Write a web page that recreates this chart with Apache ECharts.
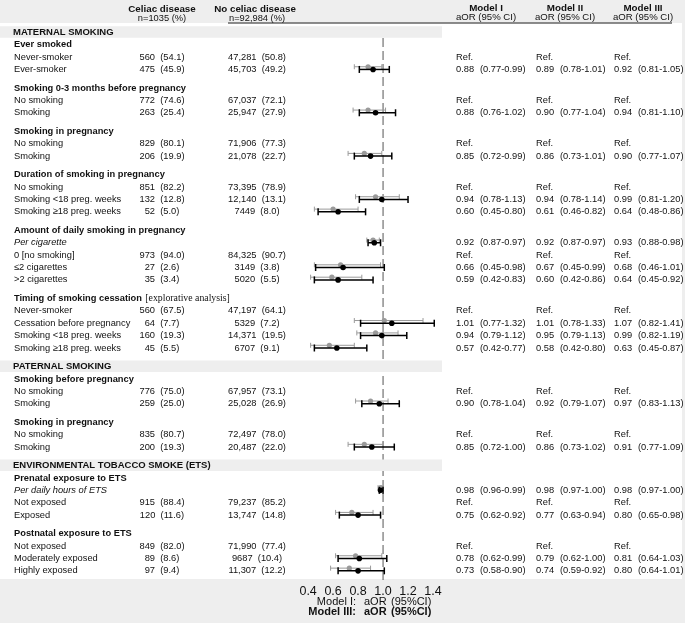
<!DOCTYPE html>
<html><head><meta charset="utf-8">
<script src="https://cdn.jsdelivr.net/npm/echarts@6/dist/echarts.min.js"></script>
<style>html,body{margin:0;padding:0;background:#fff}#c{width:685px;height:623px}</style>
</head><body><div id="c"></div>
<script>
// ---------------- DATA ----------------
// row types: s = section, g = group title, e = italic continuous row, i = item
const rowTypes = ['s','g','i','i','g','i','i','g','i','i','g','i','i','i','g','e','i','i','i','g','i','i','i','i','s','g','i','i','g','i','i','s','g','e','i','i','g','i','i','i'];
const rowLabels = [
 'MATERNAL SMOKING','Ever smoked','Never-smoker','Ever-smoker',
 'Smoking 0-3 months before pregnancy','No smoking','Smoking',
 'Smoking in pregnancy','No smoking','Smoking',
 'Duration of smoking in pregnancy','No smoking','Smoking <18 preg. weeks','Smoking \u226518 preg. weeks',
 'Amount of daily smoking in pregnancy','Per cigarette','0 [no smoking]','\u22642 cigarettes','>2 cigarettes',
 'Timing of smoking cessation','Never-smoker','Cessation before pregnancy','Smoking <18 preg. weeks','Smoking \u226518 preg. weeks',
 'PATERNAL SMOKING','Smoking before pregnancy','No smoking','Smoking',
 'Smoking in pregnancy','No smoking','Smoking',
 'ENVIRONMENTAL TOBACCO SMOKE (ETS)','Prenatal exposure to ETS','Per daily hours of ETS','Not exposed','Exposed',
 'Postnatal exposure to ETS','Not exposed','Moderately exposed','Highly exposed'
];
const rowNotes = {19: '[explorative analysis]'};
const headers = {celiac: ['Celiac disease','n=1035 (%)'], noCeliac: ['No celiac disease','n=92,984 (%)'],
  models: ['Model I','Model II','Model III'], modelSub: 'aOR (95% CI)'};
const celiacN   = [null,null,560,475,null,772,263,null,829,206,null,851,132,52,null,null,973,27,35,null,560,64,160,45,null,null,776,259,null,835,200,null,null,null,915,120,null,849,89,97];
const celiacPct = [null,null,54.1,45.9,null,74.6,25.4,null,80.1,19.9,null,82.2,12.8,5.0,null,null,94.0,2.6,3.4,null,67.5,7.7,19.3,5.5,null,null,75.0,25.0,null,80.7,19.3,null,null,null,88.4,11.6,null,82.0,8.6,9.4];
const noCeliacN   = [null,null,47281,45703,null,67037,25947,null,71906,21078,null,73395,12140,7449,null,null,84325,3149,5020,null,47197,5329,14371,6707,null,null,67957,25028,null,72497,20487,null,null,null,79237,13747,null,71990,9687,11307];
const noCeliacPct = [null,null,50.8,49.2,null,72.1,27.9,null,77.3,22.7,null,78.9,13.1,8.0,null,null,90.7,3.8,5.5,null,64.1,7.2,19.5,9.1,null,null,73.1,26.9,null,78.0,22.0,null,null,null,85.2,14.8,null,77.4,10.4,12.2];
const R = 'Ref.';
const modelI = [null,null,R,[0.88,0.77,0.99],null,R,[0.88,0.76,1.02],null,R,[0.85,0.72,0.99],null,R,[0.94,0.78,1.13],[0.60,0.45,0.80],null,[0.92,0.87,0.97],R,[0.66,0.45,0.98],[0.59,0.42,0.83],null,R,[1.01,0.77,1.32],[0.94,0.79,1.12],[0.57,0.42,0.77],null,null,R,[0.90,0.78,1.04],null,R,[0.85,0.72,1.00],null,null,[0.98,0.96,0.99],R,[0.75,0.62,0.92],null,R,[0.78,0.62,0.99],[0.73,0.58,0.90]];
const modelII = [null,null,R,[0.89,0.78,1.01],null,R,[0.90,0.77,1.04],null,R,[0.86,0.73,1.01],null,R,[0.94,0.78,1.14],[0.61,0.46,0.82],null,[0.92,0.87,0.97],R,[0.67,0.45,0.99],[0.60,0.42,0.86],null,R,[1.01,0.78,1.33],[0.95,0.79,1.13],[0.58,0.42,0.80],null,null,R,[0.92,0.79,1.07],null,R,[0.86,0.73,1.02],null,null,[0.98,0.97,1.00],R,[0.77,0.63,0.94],null,R,[0.79,0.62,1.00],[0.74,0.59,0.92]];
const modelIII = [null,null,R,[0.92,0.81,1.05],null,R,[0.94,0.81,1.10],null,R,[0.90,0.77,1.07],null,R,[0.99,0.81,1.20],[0.64,0.48,0.86],null,[0.93,0.88,0.98],R,[0.68,0.46,1.01],[0.64,0.45,0.92],null,R,[1.07,0.82,1.41],[0.99,0.82,1.19],[0.63,0.45,0.87],null,null,R,[0.97,0.83,1.13],null,R,[0.91,0.77,1.09],null,null,[0.98,0.97,1.00],R,[0.80,0.65,0.98],null,R,[0.81,0.64,1.03],[0.80,0.64,1.01]];
const xTicks = [0.4,0.6,0.8,1.0,1.2,1.4];
const refValue = 1.0;
const footer = [['Model I:','aOR','(95%CI)'],['Model III:','aOR','(95%CI)']];

// ---------------- LAYOUT ----------------
const Y0 = 32.3, UNIT = 12.38, AXIS_Y = 580;
const pos = [];
rowTypes.forEach((t, i) => {
  if (i === 0) { pos.push(0); return; }
  const prev = rowTypes[i-1];
  const step = ((t === 's' || t === 'g') && (prev === 'i')) ? 1.5 : 1;
  pos.push(pos[i-1] + step);
});
const FF = '"Liberation Sans", Arial, Helvetica, sans-serif';
const fN = '9.3px ' + FF, fB = 'bold 9.3px ' + FF, fI = 'italic 9.3px ' + FF;

function fmtN(n){ return n >= 10000 ? n.toLocaleString('en-US') : String(n); }

function forestSeries(model, color, lw, cap, r, dy, z){
  const data = [];
  model.forEach((m, i) => { if (Array.isArray(m)) data.push([m[0], pos[i], m[1], m[2]]); });
  return {
    type: 'custom', coordinateSystem: 'cartesian2d', z: z, silent: true, clip: false,
    encode: {x: 0, y: 1},
    data: data,
    renderItem: function(params, api){
      const c = api.coord([api.value(0), api.value(1)]);
      const a = api.coord([api.value(2), api.value(1)]);
      const b = api.coord([api.value(3), api.value(1)]);
      const y = c[1] + dy;
      const st = {stroke: color, lineWidth: lw};
      return {type: 'group', children: [
        {type: 'line', shape: {x1: a[0], y1: y, x2: b[0], y2: y}, style: st},
        {type: 'line', shape: {x1: a[0], y1: y-cap, x2: a[0], y2: y+cap}, style: st},
        {type: 'line', shape: {x1: b[0], y1: y-cap, x2: b[0], y2: y+cap}, style: st},
        {type: 'circle', shape: {cx: c[0], cy: y, r: r}, style: {fill: color}}
      ]};
    }
  };
}

const chart = echarts.init(document.getElementById('c'));
const yMin = -Y0/UNIT, yMax = (AXIS_Y - Y0)/UNIT;
chart.setOption({
  animation: false,
  backgroundColor: '#fff',
  grid: {left: 300, top: 0, width: 141, height: AXIS_Y, containLabel: false, outerBoundsMode: 'none'},
  xAxis: {type: 'value', min: 0.335, max: 1.464, z: 6,
    axisLine: {show: true, lineStyle: {color: '#000', width: 1}},
    axisTick: {show: true, inside: true, length: 4, lineStyle: {color: '#000'}, customValues: xTicks},
    axisLabel: {show: true, customValues: xTicks, formatter: v => v.toFixed(1), fontSize: 12.5, color: '#111', margin: 5, fontFamily: FF},
    splitLine: {show: false}},
  yAxis: {type: 'value', inverse: true, min: yMin, max: yMax, show: false},
  series: [
    {type: 'line', silent: true, z: 2, symbol: 'none', data: [[refValue, (38 - Y0)/UNIT], [refValue, yMax]],
     lineStyle: {color: '#555', width: 1, type: [9, 4]}},
    forestSeries(modelI, '#9a9a9a', 1, 2.5, 2.6, -2.7, 4),
    forestSeries(modelIII, '#000', 1.5, 3.5, 2.8, 0, 5)
  ]
});

const yPix = v => chart.convertToPixel({yAxisIndex: 0}, v);
const g = [];
function rect(x, y, w, h, fill, z){ g.push({type: 'rect', shape: {x, y, width: w, height: h}, style: {fill}, z, silent: true}); }
function text(s, x, y, font, align, z, fill){
  g.push({type: 'text', x, y, z: z || 10, silent: true,
    style: {text: s, font, fill: fill || '#111', align: align || 'left', verticalAlign: 'middle', textAlign: align || 'left', textVerticalAlign: 'middle'}});
}
// backgrounds
rect(0, 0, 685, 23, '#eeeeee', 1);
rect(0, 579, 685, 44, '#eeeeee', 1);
rect(682, 0, 3, 623, '#eeeeee', 1);
g.push({type: 'line', shape: {x1: 228, y1: 23, x2: 672, y2: 23}, style: {stroke: '#666', lineWidth: 1.5}, z: 3, silent: true});

// header
text(headers.celiac[0], 162, 9, 'bold 9.8px ' + FF, 'center');
text(headers.celiac[1], 162, 18.3, fN, 'center');
text(headers.noCeliac[0], 255, 9, 'bold 9.8px ' + FF, 'center');
text(headers.noCeliac[1], 257, 18.3, fN, 'center');
const modelX = [456, 536, 614];
const modelCenter = [486, 565, 643];
headers.models.forEach((m, k) => {
  text(m, modelCenter[k], 8.5, 'bold 9.8px ' + FF, 'center');
  text(headers.modelSub, modelCenter[k], 17.5, '9.6px ' + FF, 'center');
});

// rows
const models = [modelI, modelII, modelIII];
rowTypes.forEach((t, i) => {
  const y = yPix(pos[i]);
  if (t === 's') {
    rect(0, y - 6, 442, 11.5, '#eeeeee', 7);
    text(rowLabels[i], 13, y, 'bold 9.5px ' + FF, 'left', 10);
    return;
  }
  if (t === 'g') {
    if (rowNotes[i]) {
      g.push({type: 'text', x: 14, y, z: 10, silent: true, style: {
        text: '{b|' + rowLabels[i] + '} {s|' + rowNotes[i] + '}', fill: '#111',
        align: 'left', verticalAlign: 'middle', textAlign: 'left', textVerticalAlign: 'middle',
        rich: {b: {font: fB, fill: '#111'}, s: {font: '9.8px "Liberation Serif", "Times New Roman", serif', fill: '#111'}}}});
    } else text(rowLabels[i], 14, y, fB);
  } else if (t === 'e') {
    text(rowLabels[i], 14, y, fI);
  } else {
    text(rowLabels[i], 14, y, fN);
  }
  if (celiacN[i] != null) text(celiacN[i] + '  (' + celiacPct[i].toFixed(1) + ')', 162, y, fN, 'center');
  if (noCeliacN[i] != null) text(fmtN(noCeliacN[i]) + '  (' + noCeliacPct[i].toFixed(1) + ')', 257, y, fN, 'center');
  models.forEach((m, k) => {
    const v = m[i];
    if (v == null) return;
    if (v === R) { text(R, modelX[k], y, fN); return; }
    text(v[0].toFixed(2), modelX[k], y, fN);
    text('(' + v[1].toFixed(2) + '-' + v[2].toFixed(2) + ')', modelX[k] + 24, y, fN);
  });
});

// footer
footer.forEach((f, k) => {
  const y = 602.3 + k * 9.4;
  const font = (k === 1 ? 'bold ' : '') + '11px ' + FF;
  text(f[0], 356, y, font, 'right', 10);
  text(f[1], 364, y, font, 'left', 10);
  text(f[2], 391, y, font, 'left', 10);
});

chart.setOption({graphic: {elements: g}});
</script></body></html>
